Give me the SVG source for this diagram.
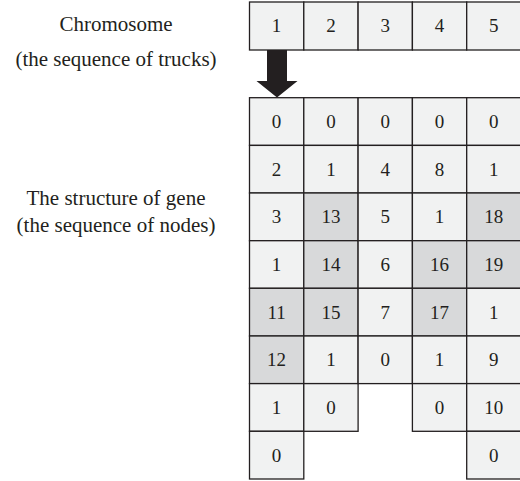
<svg xmlns="http://www.w3.org/2000/svg" width="520" height="481" viewBox="0 0 520 481">
<style>
.c{fill:#f1f2f2;stroke:#231f20;stroke-width:1.3}
.g{fill:#d8d9da;stroke:#231f20;stroke-width:1.3}
.n{font-family:"Liberation Serif",serif;font-size:19px;fill:#231f20;text-anchor:middle}
.l{font-family:"Liberation Serif",serif;font-size:21px;fill:#231f20;text-anchor:middle}
</style>
<rect width="520" height="481" fill="#fff"/>
<g id="labels">
<text class="l" x="116" y="31">Chromosome</text>
<text class="l" x="116" y="66">(the sequence of trucks)</text>
<text class="l" x="116" y="205">The structure of gene</text>
<text class="l" x="116" y="232">(the sequence of nodes)</text>
</g>
<g id="chromosome">
<g id="t1"><rect class="c" x="249.5" y="2" width="54.3" height="48"/><text class="n" x="276.6" y="32">1</text></g>
<g id="t2"><rect class="c" x="303.8" y="2" width="54.3" height="48"/><text class="n" x="330.9" y="32">2</text></g>
<g id="t3"><rect class="c" x="358.1" y="2" width="54.3" height="48"/><text class="n" x="385.2" y="32">3</text></g>
<g id="t4"><rect class="c" x="412.4" y="2" width="54.3" height="48"/><text class="n" x="439.5" y="32">4</text></g>
<g id="t5"><rect class="c" x="466.7" y="2" width="54.3" height="48"/><text class="n" x="493.8" y="32">5</text></g>
</g>
<g id="connectors">
<polygon points="267,50 287,50 287,81 297.5,81 277,97.5 256.5,81 267,81" fill="#231f20"/>
</g>
<g id="gene">
<!-- column 1 -->
<g id="g1-0"><rect class="c" x="249.5" y="97.7" width="54.3" height="47.7"/><text class="n" x="276.6" y="128">0</text></g>
<g id="g1-1"><rect class="c" x="249.5" y="145.4" width="54.3" height="47.6"/><text class="n" x="276.6" y="175.7">2</text></g>
<g id="g1-2"><rect class="c" x="249.5" y="193" width="54.3" height="47.7"/><text class="n" x="276.6" y="223.3">3</text></g>
<g id="g1-3"><rect class="c" x="249.5" y="240.7" width="54.3" height="47.6"/><text class="n" x="276.6" y="271">1</text></g>
<g id="g1-4"><rect class="g" x="249.5" y="288.3" width="54.3" height="47.7"/><text class="n" x="276.6" y="318.6">11</text></g>
<g id="g1-5"><rect class="g" x="249.5" y="336" width="54.3" height="47.6"/><text class="n" x="276.6" y="366.3">12</text></g>
<g id="g1-6"><rect class="c" x="249.5" y="383.6" width="54.3" height="47.7"/><text class="n" x="276.6" y="413.9">1</text></g>
<g id="g1-7"><rect class="c" x="249.5" y="431.3" width="54.3" height="47.7"/><text class="n" x="276.6" y="461.6">0</text></g>
<!-- column 2 -->
<g id="g2-0"><rect class="c" x="303.8" y="97.7" width="54.3" height="47.7"/><text class="n" x="330.9" y="128">0</text></g>
<g id="g2-1"><rect class="c" x="303.8" y="145.4" width="54.3" height="47.6"/><text class="n" x="330.9" y="175.7">1</text></g>
<g id="g2-2"><rect class="g" x="303.8" y="193" width="54.3" height="47.7"/><text class="n" x="330.9" y="223.3">13</text></g>
<g id="g2-3"><rect class="g" x="303.8" y="240.7" width="54.3" height="47.6"/><text class="n" x="330.9" y="271">14</text></g>
<g id="g2-4"><rect class="g" x="303.8" y="288.3" width="54.3" height="47.7"/><text class="n" x="330.9" y="318.6">15</text></g>
<g id="g2-5"><rect class="c" x="303.8" y="336" width="54.3" height="47.6"/><text class="n" x="330.9" y="366.3">1</text></g>
<g id="g2-6"><rect class="c" x="303.8" y="383.6" width="54.3" height="47.7"/><text class="n" x="330.9" y="413.9">0</text></g>
<!-- column 3 -->
<g id="g3-0"><rect class="c" x="358.1" y="97.7" width="54.3" height="47.7"/><text class="n" x="385.2" y="128">0</text></g>
<g id="g3-1"><rect class="c" x="358.1" y="145.4" width="54.3" height="47.6"/><text class="n" x="385.2" y="175.7">4</text></g>
<g id="g3-2"><rect class="c" x="358.1" y="193" width="54.3" height="47.7"/><text class="n" x="385.2" y="223.3">5</text></g>
<g id="g3-3"><rect class="c" x="358.1" y="240.7" width="54.3" height="47.6"/><text class="n" x="385.2" y="271">6</text></g>
<g id="g3-4"><rect class="c" x="358.1" y="288.3" width="54.3" height="47.7"/><text class="n" x="385.2" y="318.6">7</text></g>
<g id="g3-5"><rect class="c" x="358.1" y="336" width="54.3" height="47.6"/><text class="n" x="385.2" y="366.3">0</text></g>
<!-- column 4 -->
<g id="g4-0"><rect class="c" x="412.4" y="97.7" width="54.3" height="47.7"/><text class="n" x="439.5" y="128">0</text></g>
<g id="g4-1"><rect class="c" x="412.4" y="145.4" width="54.3" height="47.6"/><text class="n" x="439.5" y="175.7">8</text></g>
<g id="g4-2"><rect class="c" x="412.4" y="193" width="54.3" height="47.7"/><text class="n" x="439.5" y="223.3">1</text></g>
<g id="g4-3"><rect class="g" x="412.4" y="240.7" width="54.3" height="47.6"/><text class="n" x="439.5" y="271">16</text></g>
<g id="g4-4"><rect class="g" x="412.4" y="288.3" width="54.3" height="47.7"/><text class="n" x="439.5" y="318.6">17</text></g>
<g id="g4-5"><rect class="c" x="412.4" y="336" width="54.3" height="47.6"/><text class="n" x="439.5" y="366.3">1</text></g>
<g id="g4-6"><rect class="c" x="412.4" y="383.6" width="54.3" height="47.7"/><text class="n" x="439.5" y="413.9">0</text></g>
<!-- column 5 -->
<g id="g5-0"><rect class="c" x="466.7" y="97.7" width="54.3" height="47.7"/><text class="n" x="493.8" y="128">0</text></g>
<g id="g5-1"><rect class="c" x="466.7" y="145.4" width="54.3" height="47.6"/><text class="n" x="493.8" y="175.7">1</text></g>
<g id="g5-2"><rect class="g" x="466.7" y="193" width="54.3" height="47.7"/><text class="n" x="493.8" y="223.3">18</text></g>
<g id="g5-3"><rect class="g" x="466.7" y="240.7" width="54.3" height="47.6"/><text class="n" x="493.8" y="271">19</text></g>
<g id="g5-4"><rect class="c" x="466.7" y="288.3" width="54.3" height="47.7"/><text class="n" x="493.8" y="318.6">1</text></g>
<g id="g5-5"><rect class="c" x="466.7" y="336" width="54.3" height="47.6"/><text class="n" x="493.8" y="366.3">9</text></g>
<g id="g5-6"><rect class="c" x="466.7" y="383.6" width="54.3" height="47.7"/><text class="n" x="493.8" y="413.9">10</text></g>
<g id="g5-7"><rect class="c" x="466.7" y="431.3" width="54.3" height="47.7"/><text class="n" x="493.8" y="461.6">0</text></g>
</g>
</svg>
